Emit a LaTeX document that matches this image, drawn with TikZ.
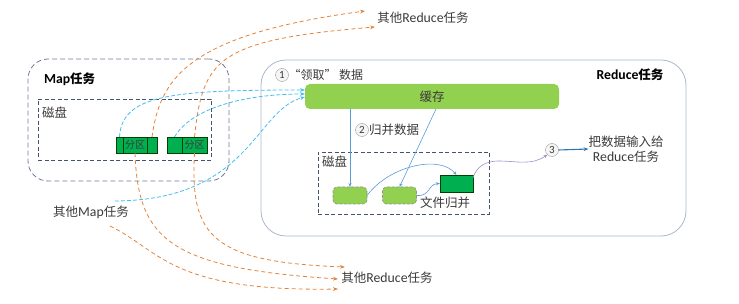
\documentclass[tikz,border=0pt]{standalone}
\usepackage{fontspec}
\setmainfont{Carlito}[Scale=1.1]
\newfontfamily\cjk{Noto Sans CJK SC}
\usetikzlibrary{arrows.meta,positioning}
\definecolor{mapline}{HTML}{6B7B96}
\definecolor{diskline}{HTML}{44546A}
\definecolor{redline}{HTML}{A9B8CC}
\definecolor{partgreen}{HTML}{00B050}
\definecolor{cachegreen}{HTML}{92D050}
\definecolor{norange}{HTML}{E3823A}
\definecolor{ncyan}{HTML}{45BDF0}
\definecolor{nblue}{HTML}{2E75B6}
\definecolor{nlink}{HTML}{5B9BD5}
\definecolor{npurple}{HTML}{A08CC8}
\definecolor{ntext}{HTML}{3A3A3A}

\begin{document}
\begin{tikzpicture}[x=1pt, y=-1pt, font=\fontsize{12.5}{15}\selectfont, text=ntext,
  every node/.style={inner sep=0pt, outer sep=0pt},
  zh/.style={font=\cjk\fontsize{12.5}{15}\selectfont},
  dashbox/.style={draw=diskline, line width=0.8pt, dash pattern=on 4pt off 2.5pt},
  part/.style={draw=green!25!black, fill=partgreen, minimum height=16pt, font=\cjk\fontsize{10}{11}\selectfont},
  smallbox/.style={draw=gray!85, line width=0.7pt, dash pattern=on 3pt off 1.5pt, fill=cachegreen, rounded corners=4pt, minimum width=34pt, minimum height=17pt},
  numc/.style={circle, draw=gray!80, fill=gray!8, minimum size=13pt, font=\fontsize{10}{11}\selectfont},
  outflow/.style={norange, line width=0.8pt, dash pattern=on 4pt off 3pt, -{Stealth[length=5pt]}},
  inflow/.style={ncyan, line width=0.8pt, dash pattern=on 4pt off 2pt, -{Stealth[length=5pt]}},
  flow/.style={nlink, line width=0.6pt, -{Stealth[length=4pt]}}]
\useasboundingbox (0,0) rectangle (739,304);

% map side
\node[draw=mapline, line width=0.8pt, dash pattern=on 5pt off 3pt, rounded corners=20pt,
  minimum width=201pt, minimum height=122pt] (maptask) at (128.5,120) {};
\node[anchor=west, font=\bfseries\fontsize{12.5}{15}\selectfont, text=black] (maplbl) at (44,79) {Map{\cjk 任务}};
\node[dashbox, minimum width=173pt, minimum height=61pt] (mapdisk) at (124.5,129.5) {};
\node[anchor=west, zh] (mapdisklbl) at (42,113) {磁盘};
\node[part, minimum width=7pt] (p1a) at (119.5,145) {};
\node[part, minimum width=24pt] (p1b) at (135,145) {分区};
\node[part, minimum width=10pt] (p1c) at (152,145) {};
\node[part, minimum width=15pt] (p2a) at (174.5,145) {};
\node[part, minimum width=25pt] (p2b) at (194.5,145) {分区};
\node (othermap) at (91,212) {{\cjk 其他}Map{\cjk 任务}};

% reduce side
\node[draw=redline, line width=0.8pt, rounded corners=25pt,
  minimum width=425pt, minimum height=176pt] (redtask) at (473.5,148) {};
\node[font=\bfseries\fontsize{12.5}{15}\selectfont, text=black] (redlbl) at (630,75) {Reduce{\cjk 任务}};
\node[zh, fill=cachegreen, rounded corners=5pt, minimum width=254pt, minimum height=25pt] (cache) at (432,96.5) {缓存};
\node[numc] (n1) at (282,75) {1};
\node[anchor=west, font=\cjk\fontsize{12}{14}\selectfont] (fetch) at (288.5,75) {“领取” 数据};
\node[numc] (n2) at (362,130) {2};
\node[anchor=west, zh] (mergelbl) at (369,130) {归并数据};
\node[dashbox, minimum width=171pt, minimum height=62pt] (reddisk) at (403.5,183) {};
\node[anchor=west, zh] (reddisklbl) at (322,162) {磁盘};
\node[smallbox] (s1) at (350,195.5) {};
\node[smallbox] (s2) at (399.5,195.5) {};
\node[draw=green!25!black, fill=partgreen, minimum width=33pt, minimum height=17pt] (merged) at (456.5,183.5) {};
\node[zh] (filemerge) at (445,203) {文件归并};
\node[numc] (n3) at (552,150) {3};
\node[align=center] (target) at (626,149) {{\cjk 把数据输入给}\\Reduce{\cjk 任务}};

% other reduce tasks
\node (topred) at (423,18) {{\cjk 其他}Reduce{\cjk 任务}};
\node (botred) at (387,278) {{\cjk 其他}Reduce{\cjk 任务}};
\coordinate (up1) at (365,11);
\coordinate (up2) at (375,27);
\coordinate (dn1) at (338,279);
\coordinate (dn2) at (345,267);
\coordinate (dn3) at (338,289);
\coordinate (mapsrc) at (110,226);
\coordinate (cyansrc) at (115,201);
\coordinate (pmid) at (498,161);

% shuffle out
\draw[outflow] (p1c.north) .. controls (160,80) and (185,35) .. (up1);
\draw[outflow] (p2b.north) .. controls (203,60) and (215,40) .. (up2);
\draw[outflow] (p1b.south) .. controls (138,240) and (170,268) .. (dn1);
\draw[outflow] (p2b.south) .. controls (190,235) and (210,262) .. (dn2);
\draw[outflow] (mapsrc) .. controls (160,250) and (170,292) .. (dn3);

% fetch
\draw[inflow] (p1a.north) .. controls (122,95) and (170,90) .. ([yshift=6.5pt]cache.west);
\draw[inflow] (p2a.north) .. controls (190,110) and (240,94) .. ([yshift=2.5pt]cache.west);
\draw[inflow] (cyansrc) .. controls (250,200) and (255,110) .. ([yshift=-0.5pt]cache.west);

% merge
\draw[flow] (s1.north |- cache.south) -- (s1.north);
\draw[flow] ([xshift=4pt]cache.south) -- (s2.north);
\draw[flow] (s1.east) .. controls (390,165) and (440,155) .. (merged.north);
\draw[flow] (s2.east) .. controls (430,197) and (428,184) .. (merged.west);
\draw[npurple, line width=0.6pt, -{Stealth[length=4pt]}] ([yshift=-3pt]merged.north east) to[out=75, in=180] (pmid) to[out=0, in=215] (n3.south west);
\draw[nblue, line width=1.1pt, -{Stealth[length=5pt]}] (n3.east) -- (target.west);
\end{tikzpicture}
\end{document}
